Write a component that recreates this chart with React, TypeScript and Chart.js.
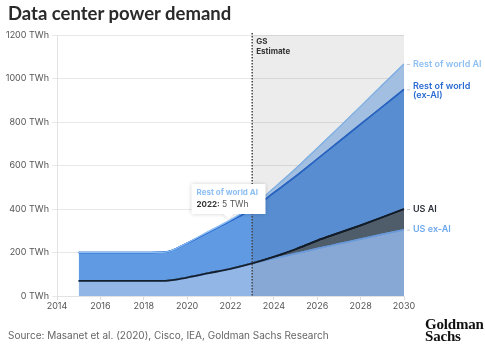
import React, { useEffect, useRef } from 'react';
import { Chart, registerables } from 'chart.js';
Chart.register(...registerables);

// ---- data ----
const years = [2015, 2016, 2017, 2018, 2019, 2020, 2021, 2022, 2023, 2024, 2025, 2026, 2027, 2028, 2029, 2030];
const usExAI = [70, 70, 70, 70, 70, 85, 105, 125, 150, 172, 195, 218, 240, 262, 284, 305];
const usAI = [0, 0, 0, 0, 0, 0, 0, 0, 0, 8, 20, 37, 50, 63, 78, 95];
const rowExAI = [130, 130, 130, 130, 132, 158, 189, 220, 250, 295, 335, 375, 420, 465, 508, 550];
const rowAI = [0, 0, 0, 0, 0, 1, 3, 5, 12, 22, 35, 50, 65, 82, 100, 117];
const seriesNames = ['US ex-AI', 'US AI', 'Rest of world (ex-AI)', 'Rest of world AI'];
const estimateStart = 2023;
const tooltipYear = 2022;
const xMin = 2014;
const xMax = 2030;
const yMax = 1200;

const FONT = 'Inter, "Noto Sans", sans-serif';

const toPts = (vals: number[]) => years.map((y, i) => ({ x: y, y: vals[i] }));

export default function App() {
  const ref = useRef<HTMLCanvasElement | null>(null);

  useEffect(() => {
    const canvas = ref.current;
    if (!canvas) return;

    const overlayPlugin = {
      id: 'overlay',
      afterDatasetsDraw(chart: any) {
        const { ctx, chartArea, scales } = chart;
        // redraw lines bottom-to-top so upper series' lines sit on top
        for (let i = 0; i < chart.data.datasets.length; i++) {
          const meta = chart.getDatasetMeta(i);
          ctx.save();
          meta.dataset.draw(ctx, chartArea);
          ctx.restore();
        }
        const xs = scales.x;
        const x0 = xs.getPixelForValue(estimateStart);
        ctx.save();
        ctx.fillStyle = 'rgba(0,0,0,0.075)';
        ctx.fillRect(x0, chartArea.top, chartArea.right - x0, chartArea.bottom - chartArea.top);
        // dotted line
        ctx.strokeStyle = '#444';
        ctx.lineWidth = 1.5;
        ctx.setLineDash([1.5, 1.5]);
        ctx.beginPath();
        ctx.moveTo(x0, chartArea.top - 2);
        ctx.lineTo(x0, chartArea.bottom);
        ctx.stroke();
        ctx.setLineDash([]);
        ctx.fillStyle = '#333';
        ctx.font = `bold 8px ${FONT}`;
        ctx.textBaseline = 'middle';
        ctx.textAlign = 'left';
        ctx.fillText('GS', x0 + 4, chartArea.top + 7);
        ctx.fillText('Estimate', x0 + 4, chartArea.top + 17);
        ctx.restore();
      },
      afterDraw(chart: any) {
        const { ctx, chartArea } = chart;
        const last = years.length - 1;
        const yOf = (i: number) => chart.getDatasetMeta(i).data[last].y;
        const lx = chartArea.right + 3;
        ctx.save();
        ctx.textBaseline = 'middle';
        ctx.textAlign = 'left';
        ctx.font = `600 9px ${FONT}`;
        const labels = [
          { i: 3, lines: [seriesNames[3]], color: '#8cbff4', dy: 0 },
          { i: 2, lines: ['Rest of world', '(ex-AI)'], color: '#2a6bd2', dy: -3 },
          { i: 1, lines: [seriesNames[1]], color: '#2a2f38', dy: 0 },
          { i: 0, lines: [seriesNames[0]], color: '#6ca8ee', dy: 0 },
        ];
        labels.forEach((l) => {
          const y = yOf(l.i);
          ctx.strokeStyle = '#c8c8c8';
          ctx.lineWidth = 1;
          ctx.beginPath();
          ctx.moveTo(lx, y + 0.5);
          ctx.lineTo(lx + 3, y + 0.5);
          ctx.stroke();
          ctx.fillStyle = l.color;
          l.lines.forEach((t, k) => ctx.fillText(t, lx + 6, y + l.dy + k * 8.5));
        });

        // static tooltip
        const ti = years.indexOf(tooltipYear);
        const tx = chart.scales.x.getPixelForValue(tooltipYear) - 2;
        const ty = chart.getDatasetMeta(3).data[ti].y;
        const bw = 74, bh = 30;
        const bx = tx - 37, by = ty - 6 - bh;
        ctx.save();
        ctx.shadowColor = 'rgba(0,0,0,0.18)';
        ctx.shadowBlur = 4;
        ctx.fillStyle = '#fff';
        ctx.beginPath();
        ctx.moveTo(bx, by);
        ctx.lineTo(bx + bw, by);
        ctx.lineTo(bx + bw, by + bh);
        ctx.lineTo(tx + 5, by + bh);
        ctx.lineTo(tx, ty - 1);
        ctx.lineTo(tx - 5, by + bh);
        ctx.lineTo(bx, by + bh);
        ctx.closePath();
        ctx.fill();
        ctx.restore();
        ctx.font = `bold 8px ${FONT}`;
        ctx.fillStyle = '#8cbff4';
        ctx.fillText(seriesNames[3], bx + 5, by + 9);
        ctx.fillStyle = '#333';
        const yl = `${tooltipYear}:`;
        ctx.fillText(yl, bx + 5, by + 21);
        const w = ctx.measureText(yl).width;
        ctx.font = `8.5px ${FONT}`;
        ctx.fillStyle = '#555';
        ctx.fillText(` ${rowAI[ti]} TWh`, bx + 5 + w, by + 21);
        ctx.restore();
      },
    };

    const chart = new Chart(canvas, {
      type: 'line',
      data: {
        datasets: [
          {
            label: seriesNames[0],
            data: toPts(usExAI),
            backgroundColor: '#92b6e6',
            borderColor: '#72a6ea',
            borderWidth: 1.5,
            fill: 'origin',
            pointRadius: 0,
            cubicInterpolationMode: 'monotone',
          },
          {
            label: seriesNames[1],
            data: toPts(usAI),
            backgroundColor: '#566473',
            borderColor: '#15202e',
            borderWidth: 1.8,
            fill: '-1',
            pointRadius: 0,
            cubicInterpolationMode: 'monotone',
          },
          {
            label: seriesNames[2],
            data: toPts(rowExAI),
            backgroundColor: '#609ae2',
            borderColor: '#2c6bcf',
            borderWidth: 1.5,
            fill: '-1',
            pointRadius: 0,
            cubicInterpolationMode: 'monotone',
          },
          {
            label: seriesNames[3],
            data: toPts(rowAI),
            backgroundColor: '#afcff4',
            borderColor: '#8ec0f4',
            borderWidth: 1.2,
            fill: '-1',
            pointRadius: 0,
            cubicInterpolationMode: 'monotone',
          },
        ],
      },
      options: {
        responsive: false,
        animation: false,
        devicePixelRatio: 1,
        layout: { padding: { left: 0, top: 35, right: 81, bottom: 44 } },
        plugins: { legend: { display: false }, tooltip: { enabled: false } },
        scales: {
          x: {
            type: 'linear',
            min: xMin,
            max: xMax,
            afterFit: (s: any) => { s.height = 20; },
            ticks: {
              stepSize: 2,
              color: '#555',
              font: { family: FONT, size: 9 },
              padding: 1,
              maxRotation: 0,
              callback: (v: any) => String(v),
            },
            grid: { display: true, drawOnChartArea: false, tickLength: 4, color: '#dcdcdc' },
            border: { display: true, color: '#e2e2e2' },
          },
          y: {
            stacked: true,
            min: 0,
            max: yMax,
            afterFit: (s: any) => { s.width = 57; },
            ticks: {
              stepSize: 200,
              color: '#555',
              font: { family: FONT, size: 9 },
              padding: 3,
              callback: (v: any) => `${v} TWh`,
            },
            grid: { color: '#e8e8e8', tickLength: 5 },
            border: { display: true, color: '#e2e2e2' },
          },
        },
      },
      plugins: [overlayPlugin],
    } as any);
    return () => chart.destroy();
  }, []);

  return (
    <div style={{ position: 'fixed', left: 0, top: 0, width: 485, height: 360, background: '#fff', overflow: 'hidden' }}>
      <canvas ref={ref} width={485} height={360} style={{ position: 'absolute', left: 0, top: 0, width: 485, height: 360 }} />
      <div style={{ position: 'absolute', left: 8, top: 2, font: '700 18.5px Lato, sans-serif', color: '#2a2a2a', whiteSpace: 'nowrap' }}>
        Data center power demand
      </div>
      <div style={{ position: 'absolute', left: 8, top: 329, font: `10px ${FONT}`, color: '#666', whiteSpace: 'nowrap' }}>
        Source: Masanet et al. (2020), Cisco, IEA, Goldman Sachs Research
      </div>
      <div style={{ position: 'absolute', left: 425, top: 318, font: 'bold 15px "Liberation Serif", serif', lineHeight: '12px', color: '#111', whiteSpace: 'nowrap', letterSpacing: '-0.2px' }}>
        Goldman<br />Sachs
      </div>
    </div>
  );
}
